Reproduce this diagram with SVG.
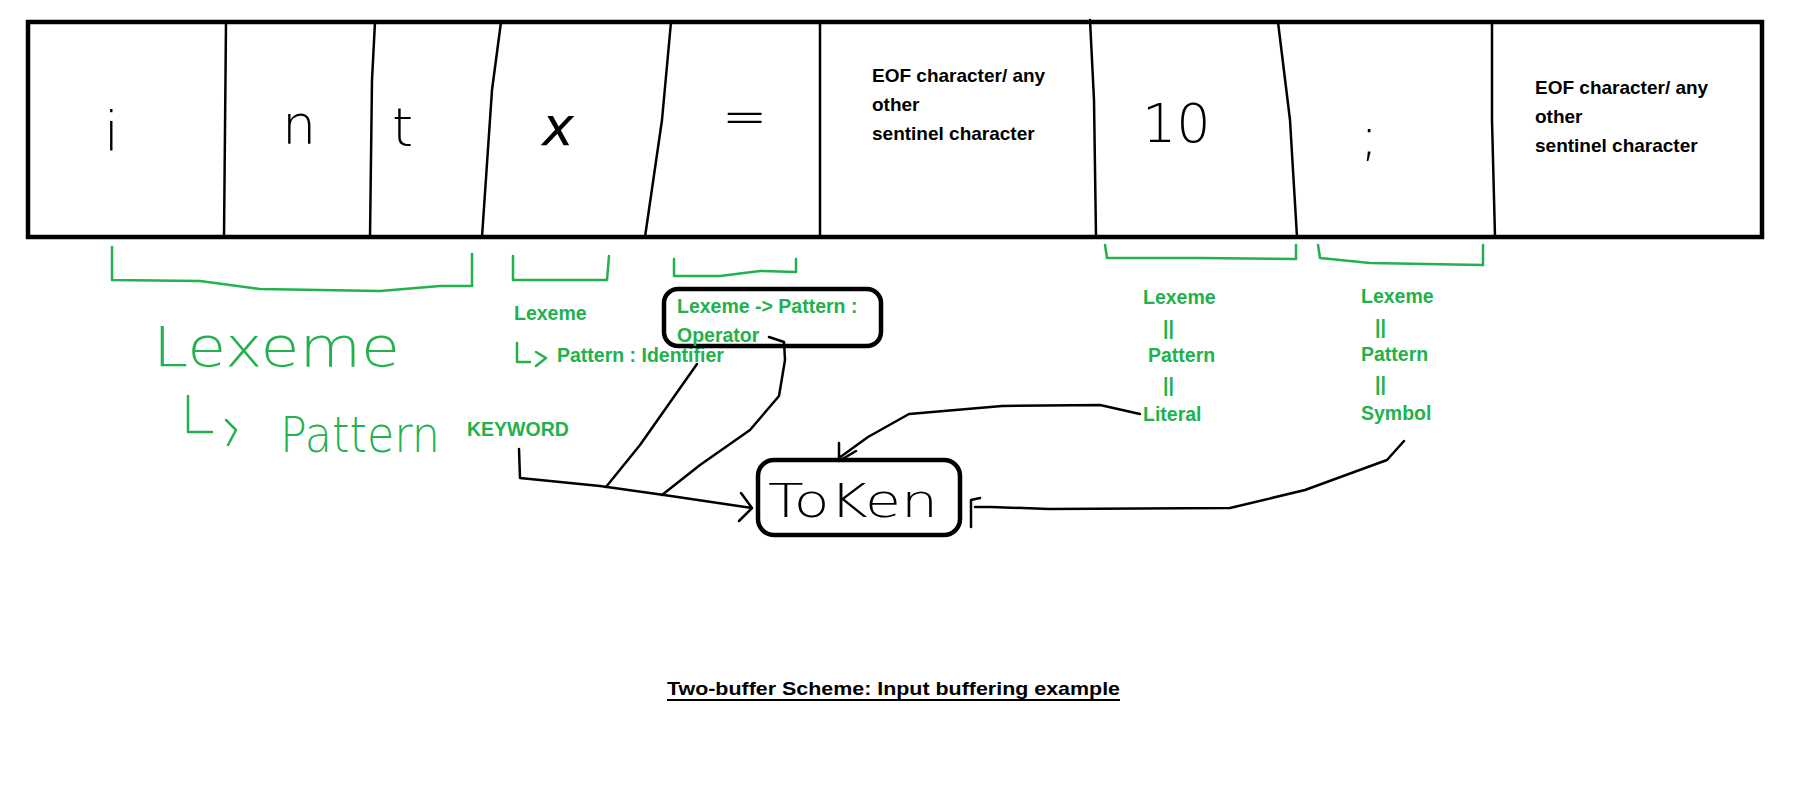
<svg xmlns="http://www.w3.org/2000/svg" width="1810" height="811" viewBox="0 0 1810 811">
<style>
.k{fill:none;stroke:#000;stroke-width:2.5;stroke-linecap:round;stroke-linejoin:round}
.g{fill:none;stroke:#22b14c;stroke-width:2.5;stroke-linecap:round;stroke-linejoin:round}
.t{font-family:"Liberation Sans",Arial,sans-serif;font-weight:bold;font-size:19px;fill:#000}
.gt{font-family:"Liberation Sans",Arial,sans-serif;font-weight:bold;font-size:19.5px;fill:#22b14c}
.h{font-family:"DejaVu Sans",sans-serif;font-weight:200;fill:#000}
.hg{font-family:"DejaVu Sans",sans-serif;font-weight:200;fill:#22b14c}
</style>
<rect width="1810" height="811" fill="#fff"/>
<g id="buffer">
<rect x="28" y="22" width="1734" height="215" fill="none" stroke="#000" stroke-width="4.5"/>
<path class="k" d="M226 22 L224 237 M375 22 L372 80 L370 237 M501 22 L492 90 L482 237 M671 22 L662 120 L645 237 M820 22 L820 237 M1090 20 L1094 100 L1096 237 M1278 22 L1290 120 L1297 237 M1492 22 L1492 120 L1495 237"/>
<text class="h" x="104" y="150" font-size="54">i</text>
<text class="h" x="282" y="143" font-size="54">n</text>
<text class="h" x="392" y="146" font-size="54">t</text>
<text class="h" x="542" y="145" font-size="54" font-style="italic">x</text>
<text class="h" x="722" y="135" font-size="54">=</text>
<text class="h" x="1142" y="142" font-size="54">10</text>
<text class="h" x="1360" y="155" font-size="54">;</text>
<text class="t" x="872" y="82">EOF character/ any</text>
<text class="t" x="872" y="111">other</text>
<text class="t" x="872" y="140">sentinel character</text>
<text class="t" x="1535" y="94">EOF character/ any</text>
<text class="t" x="1535" y="123">other</text>
<text class="t" x="1535" y="152">sentinel character</text>
</g>
<g id="brackets">
<path class="g" d="M112 247 L112 280 L200 281 L260 289 L380 291 L440 286 L472 286 L472 254"/>
<path class="g" d="M513 256 L513 280 L607 280 L609 256"/>
<path class="g" d="M674 259 L674 276 L720 276 L760 271 L796 272 L796 259"/>
<path class="g" d="M1105 245 L1107 258 L1200 258 L1296 259 L1296 245"/>
<path class="g" d="M1318 245 L1320 258 L1370 263 L1483 265 L1483 245"/>
</g>
<g id="lexeme-int">
<text class="hg" x="153" y="366" font-size="56" textLength="247" lengthAdjust="spacingAndGlyphs">Lexeme</text>
<path class="g" d="M188 396 L188 432 L212 432 M226 420 L236 430 L228 445"/>
<text class="hg" x="280" y="452" font-size="50" textLength="160" lengthAdjust="spacingAndGlyphs">Pattern</text>
<text class="gt" x="467" y="436">KEYWORD</text>
</g>
<g id="lexeme-x">
<text class="gt" x="514" y="320">Lexeme</text>
<path class="g" d="M517 343 L517 362 L530 362 M536 352 L546 358 L536 366"/>
<text class="gt" x="557" y="362">Pattern : Identifier</text>
</g>
<g id="operator">
<rect x="664" y="289" width="217" height="57" rx="14" fill="none" stroke="#000" stroke-width="4.5"/>
<text class="gt" x="677" y="313">Lexeme -&gt; Pattern :</text>
<text class="gt" x="677" y="342">Operator</text>
</g>
<g id="literal">
<text class="gt" x="1143" y="304">Lexeme</text>
<text class="gt" x="1163" y="335">||</text>
<text class="gt" x="1148" y="362">Pattern</text>
<text class="gt" x="1163" y="392">||</text>
<text class="gt" x="1143" y="421">Literal</text>
</g>
<g id="symbol">
<text class="gt" x="1361" y="303">Lexeme</text>
<text class="gt" x="1375" y="334">||</text>
<text class="gt" x="1361" y="361">Pattern</text>
<text class="gt" x="1375" y="391">||</text>
<text class="gt" x="1361" y="420">Symbol</text>
</g>
<g id="token">
<rect x="758" y="460" width="202" height="75" rx="16" fill="none" stroke="#000" stroke-width="4.5"/>
<text class="h" x="768" y="517" font-size="46" textLength="170" lengthAdjust="spacingAndGlyphs">ToKen</text>
</g>
<g id="connectors">
<path class="k" d="M519 449 L520 478 L600 486 L664 495 L752 508 M741 493 L752 508 L739 521"/>
<path class="k" d="M697 364 L640 445 L606 487"/>
<path class="k" d="M769 337 L784 342 L785 360 L779 396 L750 430 L700 465 L662 495"/>
<path class="k" d="M1140 414 L1100 405 L1002 406 L909 414 L868 437 L839 458 M839 443 L839 461 L856 451"/>
<path class="k" d="M1404 441 L1387 460 L1305 490 L1230 508 L1049 509 L991 507 L975 507 M980 498 L971 500 L971 527"/>
</g>
<g id="caption">
<text class="t" x="667" y="695" textLength="453" lengthAdjust="spacingAndGlyphs">Two-buffer Scheme: Input buffering example</text>
<line x1="667" y1="700" x2="1120" y2="700" stroke="#000" stroke-width="2"/>
</g>
</svg>
